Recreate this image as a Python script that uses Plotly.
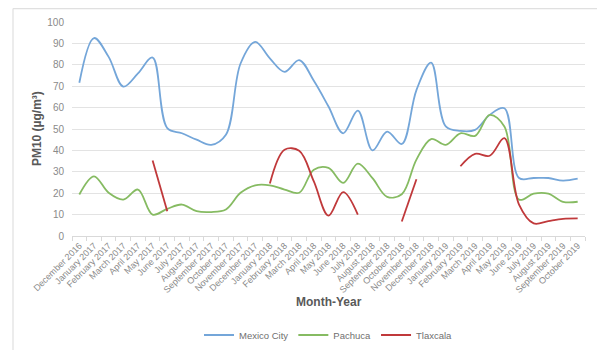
import plotly.graph_objects as go

months = ["December 2016", "January 2017", "February 2017", "March 2017", "April 2017",
          "May 2017", "June 2017", "July 2017", "August 2017", "September 2017",
          "October 2017", "November 2017", "December 2017", "January 2018", "February 2018",
          "March 2018", "April 2018", "May 2018", "June 2018", "July 2018", "August 2018",
          "September 2018", "October 2018", "November 2018", "December 2018", "January 2019",
          "February 2019", "March 2019", "April 2019", "May 2019", "June 2019", "July 2019",
          "August 2019", "September 2019", "October 2019"]

mexico_city = [71.6, 92.5, 83.7, 69.8, 76.0, 83.4, 50.4, 48.0, 45.0, 42.6,
               47.3, 80.6, 90.7, 83.0, 76.7, 82.2, 72.5, 60.5, 48.0, 58.6,
               40.0, 48.8, 43.0, 68.2, 81.0, 51.2, 49.1, 49.6, 56.6, 59.7,
               27.1, 27.1, 27.1, 25.9, 26.8]

pachuca = [19.4, 27.9, 20.2, 17.0, 21.7, 10.0, 12.7, 14.7, 11.6, 11.2,
           12.4, 20.2, 23.7, 23.7, 21.7, 20.2, 31.0, 31.8, 24.8, 33.8,
           27.0, 18.3, 19.5, 35.7, 45.3, 42.6, 48.0, 46.8, 56.6, 51.2,
           17.0, 19.8, 19.8, 16.0, 16.0]

tlaxcala = [None, None, None, None, None, 35.3, 11.6, None, None, None,
            None, None, None, 24.5, 40.3, 39.8, 25.5, 9.5, 20.5, 10.0,
            None, None, 6.8, 26.5, None, None, 32.6, 38.4, 37.5, 45.7,
            14.7, 5.9, 7.0, 8.0, 8.2]

y_ticks = [0, 10, 20, 30, 40, 50, 60, 70, 80, 90, 100]

FONT = "Liberation Sans, Arial, sans-serif"
GRAY = "#7f7f7f"

fig = go.Figure()
series = [("Mexico City", mexico_city, "#74a6d9"),
          ("Pachuca", pachuca, "#86bb62"),
          ("Tlaxcala", tlaxcala, "#c0393b")]
for name, vals, col in series:
    fig.add_trace(go.Scatter(
        x=months, y=vals, name=name, mode="lines",
        line=dict(color=col, width=1.8, shape="spline", smoothing=1.0),
        connectgaps=False,
    ))

fig.update_layout(
    width=597, height=350,
    margin=dict(l=72, r=12, t=22, b=113.5),
    paper_bgcolor="white", plot_bgcolor="white",
    font=dict(family=FONT, color=GRAY),
    showlegend=True,
    legend=dict(orientation="h", x=0.5, xanchor="center",
                yref="container", y=(350 - 335) / 350, yanchor="middle",
                font=dict(size=9.5, color="#6f6f6f"), itemwidth=30,
                traceorder="normal"),
    xaxis=dict(
        type="category", range=[-0.5, len(months) - 0.5], automargin=False,
        tickangle=-45, tickfont=dict(size=9, color="#8a8a8a"),
        ticks="outside", tickson="boundaries", ticklen=4, tickcolor="#d9d9d9",
        showline=True, linecolor="#d9d9d9", linewidth=1,
        showgrid=False, zeroline=False,
    ),
    yaxis=dict(
        range=[0, 100], tickvals=y_ticks, automargin=False,
        tickfont=dict(size=10, color="#8a8a8a"), ticklabelstandoff=7,
        showgrid=True, gridcolor="#e3e3e3", gridwidth=1,
        zeroline=False, showline=False, ticks="",
    ),
    annotations=[
        dict(text="<b>Month-Year</b>", xref="paper", yref="paper", x=0.5, y=-0.31,
             xanchor="center", yanchor="middle", showarrow=False,
             font=dict(size=12, color="#595959", family=FONT)),
        dict(text="<b>PM10 (µg/m³)</b>", xref="paper", yref="paper", x=-0.068, y=0.5,
             xanchor="center", yanchor="middle", textangle=-90, showarrow=False,
             font=dict(size=12, color="#595959", family=FONT)),
    ],
    shapes=[
        dict(type="line", xref="paper", yref="paper",
             x0=(13 - 72) / 513, x1=(597 - 72) / 513,
             y0=(236.5 - 8.5) / 214.5, y1=(236.5 - 8.5) / 214.5,
             line=dict(color="#e0e0e0", width=1.2)),
        dict(type="line", xref="paper", yref="paper",
             x0=(13 - 72) / 513, x1=(13 - 72) / 513,
             y0=(236.5 - 8.5) / 214.5, y1=(236.5 - 352) / 214.5,
             line=dict(color="#e0e0e0", width=1.2)),
    ],
)

fig.write_html("out.html")
